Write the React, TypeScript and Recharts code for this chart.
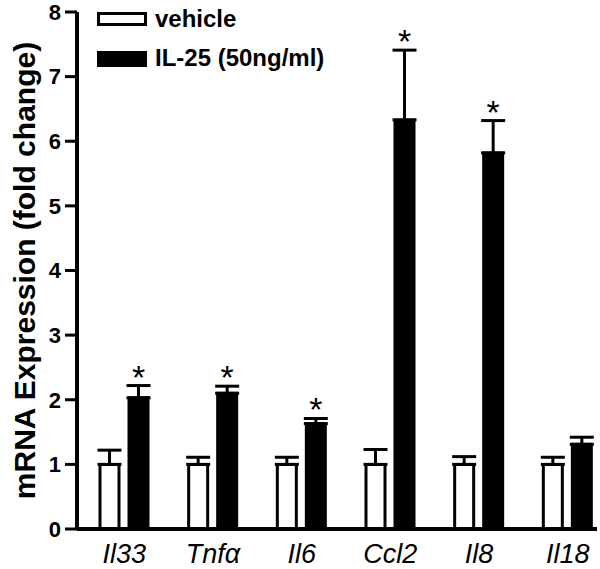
import React from "react";
import { BarChart, Bar, XAxis, YAxis, ErrorBar, Legend, LabelList } from "recharts";

const FONT = "'Liberation Sans', Arial, sans-serif";

const genes = ["Il33", "Tnfα", "Il6", "Ccl2", "Il8", "Il18"];
const vehicle = [1, 1, 1, 1, 1, 1];
const vehicleErr = [0.22, 0.11, 0.11, 0.23, 0.12, 0.11];
const il25 = [2.03, 2.1, 1.63, 6.33, 5.82, 1.31];
const il25Err = [0.19, 0.11, 0.08, 1.08, 0.5, 0.11];
const significant = [true, true, true, true, true, false];
const yTicks = [0, 1, 2, 3, 4, 5, 6, 7, 8];

const data = genes.map((gene, i) => ({
  gene,
  vehicle: vehicle[i],
  vehicleErr: [0, vehicleErr[i]],
  il25: il25[i],
  il25Err: [0, il25Err[i]],
}));

// asterisk above the error bar cap
function Star(props: any) {
  const vb = props.viewBox ?? props;
  const { x, y, width, height } = vb;
  const i = props.index;
  if (!significant[i]) return null;
  const perUnit = height / il25[i];
  const top = y - il25Err[i] * perUnit;
  return (
    <text x={x + width / 2} y={top + 3} textAnchor="middle" fontSize={34} fontFamily={FONT} fill="#000">
      *
    </text>
  );
}

function YLabel(props: any) {
  const vb = props.viewBox;
  const cy = vb.y + vb.height / 2;
  return (
    <text
      transform={`translate(35, ${cy}) rotate(-90)`}
      textAnchor="middle"
      fontSize={30}
      fontWeight="bold"
      fontFamily={FONT}
      fill="#000"
    >
      mRNA Expression (fold change)
    </text>
  );
}

function LegendBox() {
  return (
    <svg width={340} height={84} style={{ display: "block", overflow: "visible" }}>
      <rect x={3.5} y={13.5} width={47} height={11} fill="#fff" stroke="#000" strokeWidth={3} />
      <text x={60} y={27} fontSize={24} fontWeight="bold" fontFamily={FONT} fill="#000">vehicle</text>
      <rect x={2} y={51} width={50} height={16} fill="#000" />
      <text x={60} y={65.5} fontSize={24} fontWeight="bold" fontFamily={FONT} fill="#000">IL-25 (50ng/ml)</text>
    </svg>
  );
}

export default function App() {
  return (
    <div style={{ position: "absolute", left: 0, top: 0, width: 600, height: 569, background: "#fff" }}>
      <BarChart
        width={600}
        height={569}
        data={data}
        margin={{ top: 12, right: 3, bottom: 5, left: 0 }}
        barSize={19}
        barGap={10}
      >
        <XAxis
          dataKey="gene"
          height={35}
          padding={{ left: 3, right: -15 }}
          tickLine={false}
          tickSize={0}
          tickMargin={15}
          axisLine={{ stroke: "#000", strokeWidth: 4 }}
          tick={{ fontSize: 27, fontStyle: "italic", fontFamily: FONT, fill: "#000" }}
          interval={0}
        />
        <YAxis
          width={77}
          domain={[0, 8]}
          ticks={yTicks}
          interval={0}
          tickSize={12}
          tickMargin={4}
          axisLine={{ stroke: "#000", strokeWidth: 4 }}
          tickLine={{ stroke: "#000", strokeWidth: 3 }}
          tick={{ fontSize: 22, fontWeight: "bold", fontFamily: FONT, fill: "#000" }}
          label={{ content: YLabel }}
        />
        <Legend
          layout="vertical"
          align="center"
          verticalAlign="middle"
          wrapperStyle={{ left: 95, top: 0, width: 340 }}
          content={() => <LegendBox />}
        />
        <Bar dataKey="vehicle" name="vehicle" fill="#fff" stroke="#000" strokeWidth={3} isAnimationActive={false}>
          <ErrorBar dataKey="vehicleErr" direction="y" width={12} stroke="#000" strokeWidth={3} />
        </Bar>
        <Bar dataKey="il25" name="IL-25 (50ng/ml)" fill="#000" stroke="#000" strokeWidth={3} isAnimationActive={false}>
          <ErrorBar dataKey="il25Err" direction="y" width={12} stroke="#000" strokeWidth={3} />
          <LabelList dataKey="il25" content={Star} />
        </Bar>
      </BarChart>
    </div>
  );
}
